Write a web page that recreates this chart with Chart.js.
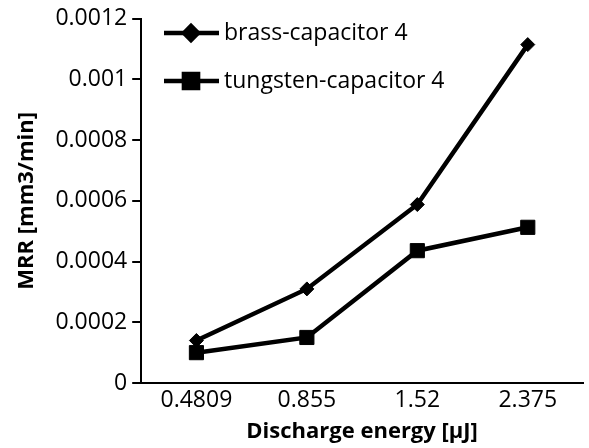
<!DOCTYPE html>
<html>
<head>
<meta charset="utf-8">
<script src="https://cdn.jsdelivr.net/npm/chart.js@4.4.1/dist/chart.umd.min.js"></script>
<style>
  html, body { margin: 0; padding: 0; background: #fff; overflow: hidden; }
  #wrap { width: 594px; height: 448px; }
</style>
</head>
<body>
<div id="wrap"><canvas id="canvas1"></canvas></div>
<script>
"use strict"

// dati
const energie = ["0.4809", "0.855", "1.52", "2.375"];
const brass = [0.00014, 0.00031, 0.000588, 0.001115];
const tungsten = [0.0001, 0.00015, 0.000436, 0.000513];
const yTickLabels = ["0", "0.0002", "0.0004", "0.0006", "0.0008", "0.001", "0.0012"];
const nomiSerie = ["brass-capacitor 4", "tungsten-capacitor 4"];

const FONT = "'Open Sans', 'DejaVu Sans', sans-serif";

// legenda disegnata dentro l'area del grafico
const legendaInterna = {
    id: "legendaInterna",
    afterDraw(chart) {
        let ctx = chart.ctx;
        let righe = [33, 81];
        ctx.save();
        chart.data.datasets.forEach((ds, i) => {
            let y = righe[i];
            ctx.strokeStyle = "#000";
            ctx.lineWidth = 4.5;
            ctx.beginPath();
            ctx.moveTo(164, y);
            ctx.lineTo(219, y);
            ctx.stroke();
            ctx.fillStyle = "#000";
            Chart.helpers.drawPoint(ctx, {
                pointStyle: ds.pointStyle,
                radius: ds.pointRadius,
                borderWidth: 1
            }, 191, y);
            ctx.font = "23px " + FONT;
            ctx.textBaseline = "middle";
            ctx.textAlign = "left";
            ctx.fillText(nomiSerie[i], 224, y);
        });
        ctx.restore();
    }
};

let chartOptions = {
    type: "line",
    data: {
        labels: energie,
        datasets: [{
            label: nomiSerie[0],
            data: brass,
            borderColor: "#000",
            backgroundColor: "#000",
            borderWidth: 4.5,
            pointStyle: "rectRot",
            pointRadius: 7,
            pointBorderWidth: 1
        }, {
            label: nomiSerie[1],
            data: tungsten,
            borderColor: "#000",
            backgroundColor: "#000",
            borderWidth: 4.5,
            pointStyle: "rect",
            pointRadius: 10,
            pointBorderWidth: 1
        }]
    },
    options: {
        responsive: true,
        maintainAspectRatio: false,
        animation: false,
        layout: { padding: { top: 16, right: 1, left: 14, bottom: 3 } },
        plugins: {
            legend: { display: false },
            tooltip: { enabled: false }
        },
        scales: {
            x: {
                offset: true,
                grid: { display: false, drawTicks: false },
                border: { display: true, color: "#000", width: 2 },
                ticks: { color: "#000", font: { family: FONT, size: 23 }, padding: 4 },
                title: {
                    display: true,
                    text: "Discharge energy [µJ]",
                    color: "#000",
                    font: { family: FONT, size: 22, weight: "bold" },
                    padding: { top: 0, bottom: 0 }
                }
            },
            y: {
                min: 0,
                max: 0.0012,
                grid: {
                    drawOnChartArea: false,
                    drawTicks: true,
                    tickLength: 9,
                    color: "#000",
                    lineWidth: 2
                },
                border: { display: true, color: "#000", width: 2 },
                ticks: {
                    stepSize: 0.0002,
                    color: "#000",
                    font: { family: FONT, size: 23 },
                    padding: 5,
                    callback: (value, index) => yTickLabels[index]
                },
                title: {
                    display: true,
                    text: "MRR [mm3/min]",
                    color: "#000",
                    font: { family: FONT, size: 22, weight: "bold" },
                    padding: { top: 0, bottom: 10 }
                }
            }
        }
    },
    plugins: [legendaInterna]
};

let canvas1 = document.getElementById("canvas1");
let chart1 = new Chart(canvas1, chartOptions);
</script>
</body>
</html>
